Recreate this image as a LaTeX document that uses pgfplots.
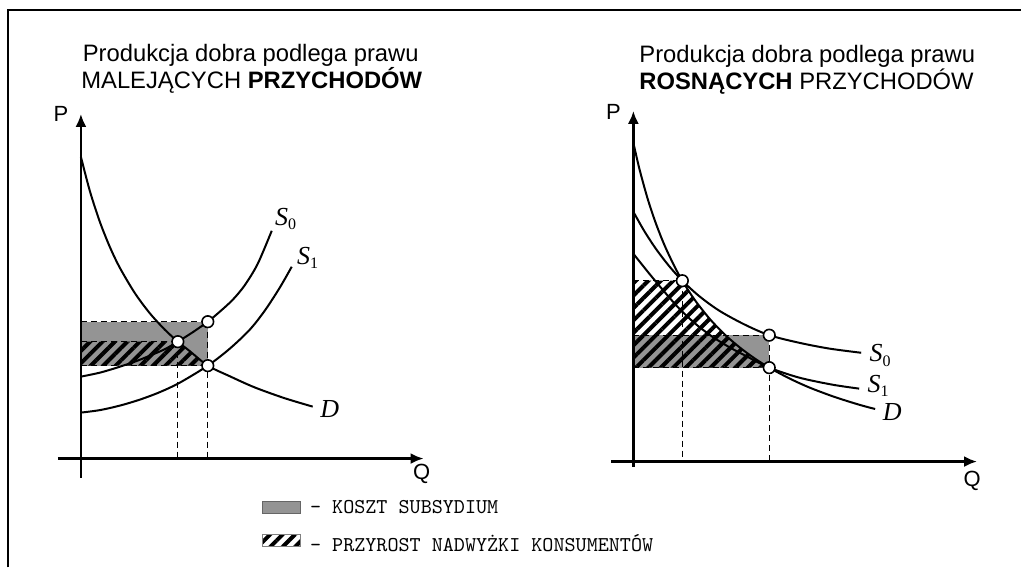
\documentclass[border=0pt]{standalone}
\usepackage{pgfplots}
\pgfplotsset{compat=1.18}
\usetikzlibrary{patterns.meta,arrows.meta}
\usepackage{fontspec}
\setmainfont{Liberation Sans}
\newfontfamily\serf{Liberation Serif}
\definecolor{subs}{gray}{0.58}
\newcommand{\Slab}[1]{{\serf\fontsize{13}{13}\selectfont\itshape S\/}{\serf\fontsize{8}{8}\selectfont\raisebox{-0.6ex}{#1}}}
\tikzset{
  hatch/.style={pattern={Lines[angle=45,distance=4.4pt,line width=2pt]},pattern color=black},
  dsh/.style={line width=0.6pt,dash pattern=on 3pt off 2pt},
  crv/.style={line width=1pt,smooth,tension=0.5},
  ax/.style={line width=1.2pt,-{Latex[length=6.5pt,width=5.5pt]}},
}
\begin{document}
\begin{tikzpicture}
\begin{axis}[width=511pt,height=284pt,scale only axis,
  xmin=0,xmax=1022,ymin=0,ymax=568,y dir=reverse,
  axis lines=none,clip=false]
\path (axis cs:0,0) rectangle (axis cs:1022,568);
% frame
\draw[line width=1pt] (axis cs:8,568) -- (axis cs:8,10) -- (axis cs:1022,10);

% ---------- LEFT PANEL ----------
\addplot[fill=subs,draw=none] coordinates {(81,322) (208,322) (208,366) (81,366)} -- cycle;
\addplot[draw=none,hatch] coordinates {(81,342) (178,342) (190,351.5) (208,366) (81,366)} -- cycle;
\addplot[dsh] coordinates {(81,322) (208,322)};
\addplot[dsh] coordinates {(81,342) (178,342)};
\addplot[dsh] coordinates {(81,366) (208,366)};
\addplot[dsh] coordinates {(178,342) (178,459)};
\addplot[dsh] coordinates {(208,322) (208,459)};
% D
\addplot[crv] coordinates {(81,157) (90,191.4) (100,222.2) (110,247.3) (120,268.1) (135,293.4) (150,313.6) (165,330) (178,342) (190,351.5) (208,366) (230,376.6) (255,387.8) (285,398.6) (313,407)};
% S0
\addplot[crv] coordinates {(81,377) (100,373) (117,368) (135,362) (150,356) (165,349.5) (178,342) (193,332.5) (208,322) (220,312) (233,300) (245,285.5) (258,264) (272,231)};
% S1
\addplot[crv] coordinates {(81,413) (100,410.5) (120,406) (140,400) (160,392.5) (180,383) (208,366) (230,349) (250,330) (265,311) (280,288) (292,267)};
\draw[ax] (axis cs:81,478) -- (axis cs:81,114);
\draw[ax] (axis cs:58,459) -- (axis cs:424,459);
\addplot[only marks,mark=*,mark size=2.9pt,mark options={fill=white,draw=black,line width=0.8pt}] coordinates {(208,322) (178,342) (208,366)};

\node[anchor=base,font=\fontsize{11.9}{12}\selectfont] at (axis cs:251,62) {Produkcja dobra podlega prawu};
\node[anchor=base,font=\fontsize{11.9}{12}\selectfont] at (axis cs:252,89) {MALEJĄCYCH \textbf{PRZYCHODÓW}};
\node[font=\fontsize{11}{11}\selectfont] at (axis cs:61,114) {P};
\node[font=\fontsize{11}{11}\selectfont] at (axis cs:422,474) {Q};
\node at (axis cs:286,219) {\Slab{0}};
\node at (axis cs:308,258) {\Slab{1}};
\node[font=\serf\fontsize{13}{13}\selectfont\itshape] at (axis cs:330,409) {D};

% ---------- RIGHT PANEL ----------
\addplot[fill=subs,draw=none] coordinates {(634,335.5) (770,335.5) (770,368) (634,368)} -- cycle;
\addplot[draw=none,hatch] coordinates {(634,281) (683,281) (695,299.6) (710,318.7) (725,334.4) (740,347.4) (755,358.5) (770,368) (634,368)} -- cycle;
\addplot[dsh] coordinates {(634,281) (683,281)};
\addplot[dsh] coordinates {(634,335.5) (770,335.5)};
\addplot[dsh] coordinates {(634,368) (770,368)};
\addplot[dsh] coordinates {(683,281) (683,462)};
\addplot[dsh] coordinates {(770,335.5) (770,462)};
% D
\addplot[crv] coordinates {(634,143) (640,168.9) (648,198) (656,222.2) (665,245.1) (675,266.4) (683,281) (695,299.6) (710,318.7) (725,334.4) (740,347.4) (755,358.5) (770,368) (790,378.7) (810,387.8) (835,397.2) (860,405.1) (876,409.4)};
% S0
\addplot[crv] coordinates {(634,212) (645,231.4) (657,249.7) (670,266.6) (683,281) (700,296.5) (720,311) (745,324.7) (770,335.5) (800,343.1) (830,348.9) (862,353.1)};
% S1
\addplot[crv] coordinates {(634,254) (650,274) (665,292) (680,309) (696,324) (713,337) (730,347.5) (747,356.5) (770,368) (800,378) (833,385) (860,389)};
\draw[ax] (axis cs:634,467) -- (axis cs:634,111);
\draw[ax] (axis cs:612,462) -- (axis cs:978,462);
\addplot[only marks,mark=*,mark size=2.9pt,mark options={fill=white,draw=black,line width=0.8pt}] coordinates {(683,281) (770,335.5) (770,368)};

\node[anchor=base west,font=\fontsize{11.9}{12}\selectfont] at (axis cs:633,63) {Produkcja dobra podlega prawu};
\node[anchor=base west,font=\fontsize{11.9}{12}\selectfont] at (axis cs:633,90) {\textbf{ROSNĄCYCH} PRZYCHODÓW};
\node[font=\fontsize{11}{11}\selectfont] at (axis cs:614,112) {P};
\node[font=\fontsize{11}{11}\selectfont] at (axis cs:973,481) {Q};
\node at (axis cs:881,356) {\Slab{0}};
\node at (axis cs:879,386) {\Slab{1}};
\node[font=\serf\fontsize{13}{13}\selectfont\itshape] at (axis cs:893,412) {D};

% ---------- LEGEND ----------
\addplot[fill=subs,draw=black!60,line width=0.5pt] coordinates {(263,502) (301,502) (301,514) (263,514)} -- cycle;
\addplot[hatch,draw=black!50,line width=0.5pt] coordinates {(263,535) (301,535) (301,547) (263,547)} -- cycle;
\node[anchor=base west,font=\ttfamily\fontsize{10.55}{11}\selectfont,inner sep=0pt] at (axis cs:310,514) {– KOSZT SUBSYDIUM};
\node[anchor=base west,font=\ttfamily\fontsize{10.55}{11}\selectfont,inner sep=0pt] at (axis cs:310,552) {– PRZYROST NADWYŻKI KONSUMENTÓW};
\end{axis}
\end{tikzpicture}
\end{document}
